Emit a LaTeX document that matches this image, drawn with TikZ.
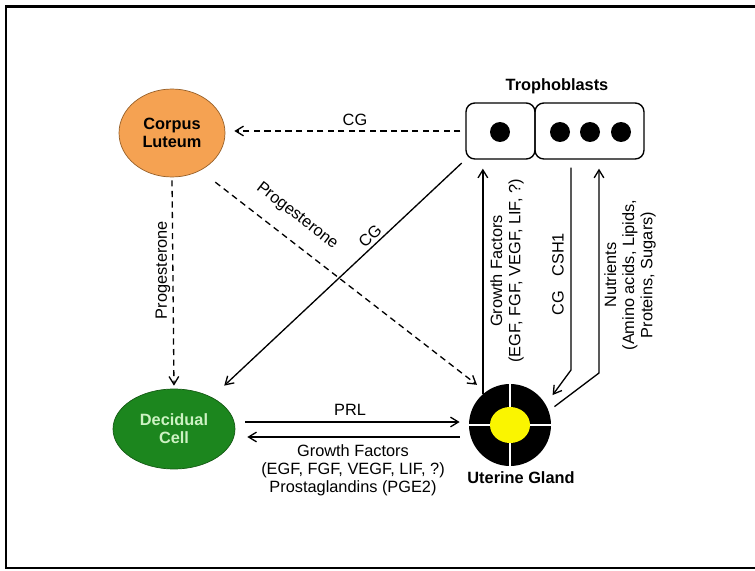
\documentclass[tikz,border=0pt]{standalone}
\usepackage{fontspec}
\setmainfont{Liberation Sans}
\usetikzlibrary{shapes.geometric,arrows.meta}

\definecolor{luteum}{RGB}{245,162,82}
\definecolor{luteumdark}{RGB}{150,95,40}
\definecolor{decidual}{RGB}{28,134,30}
\definecolor{decidualdark}{RGB}{20,90,20}
\definecolor{decidualtext}{RGB}{205,242,195}
\definecolor{glandyellow}{RGB}{250,245,0}

\begin{document}
\begin{tikzpicture}[x=0.02cm,y=-0.02cm]
        \useasboundingbox (0,0) rectangle (755,571);
        % open frame
        \draw[line width=1.6pt] (755,6.5) -- (6,6.5) -- (6,568) -- (755,568);

        \begin{scope}[font=\fontsize{9.3}{10.3}\selectfont, >={Straight Barb[length=4.5pt,width=5.5pt]},
                flow/.style={->, line width=0.75pt},
                hormone/.style={->, line width=0.75pt, dash pattern=on 3.5pt off 2.5pt}]
                % cells
                \node[ellipse, draw=luteumdark, fill=luteum, minimum width=2.12cm, minimum height=1.76cm, align=center, font=\fontsize{9.3}{10.3}\selectfont\bfseries] (CL) at (172,133) {Corpus\\Luteum};
                \node[ellipse, draw=decidualdark, fill=decidual, text=decidualtext, minimum width=2.44cm, minimum height=1.6cm, align=center, font=\fontsize{9.3}{10.3}\selectfont\bfseries] (DC) at (174,429) {Decidual\\Cell};
                \node[circle, fill=black, minimum size=1.64cm, inner sep=0] (UG) at (510,425) {};
                \draw[white, line width=0.6pt] (UG.north) -- (UG.south) (UG.west) -- (UG.east);
                \fill[glandyellow] (UG.center) ellipse [x radius=20, y radius=18];
                \node[font=\fontsize{9.3}{10.3}\selectfont\bfseries] (UGlabel) at (521,478) {Uterine Gland};

                % trophoblasts
                \node[draw, line width=0.8pt, rounded corners=5pt, minimum width=1.38cm, minimum height=1.12cm] (T1) at (500.5,131) {};
                \node[draw, line width=0.8pt, rounded corners=5pt, minimum width=2.18cm, minimum height=1.12cm] (T2) at (589.5,131) {};
                \foreach \x/\n in {500/1, 560/2, 590/3, 621/4}
                        \node[circle, fill=black, minimum size=0.4cm, inner sep=0] (nuc\n) at (\x,132) {};
                \node[font=\fontsize{9.3}{10.3}\selectfont\bfseries] (TBlabel) at (557,86) {Trophoblasts};

                % bend points
                \coordinate (csbend) at (571,370);
                \coordinate (nutbend) at (599,373);
                \coordinate (prlA) at ([yshift=0.14cm]DC.east);
                \coordinate (gfB) at ([yshift=-0.16cm]DC.east);

                % hormones
                \draw[hormone, shorten <=0.1cm, shorten >=0.18cm] (T1.west) -- (T1.west -| CL.east);
                \draw[hormone, shorten <=0.06cm, shorten >=0.06cm] (CL.south) -- (DC.north);
                \draw[hormone, shorten <=0.38cm, shorten >=0.22cm] (CL.-53) -- (UG.126);
                \draw[flow, shorten <=0.1cm, shorten >=0.34cm] (T1.south west) -- (DC.40);

                \node (cgA) at (355,120) {CG};
                \node[rotate=90] (progA) at (163,270) {Progesterone};
                \node[rotate=-37.8] (progB) at (297,216) {Progesterone};
                \node[rotate=43] (cgB) at (370,236) {CG};

                % gland and trophoblasts
                \draw[flow, shorten >=0.18cm] (UG.131) -- (UG.131 |- T1.south);
                \draw[flow, shorten <=0.16cm, shorten >=0.23cm] (T2.south -| csbend) -- (csbend) -- (UG.30);
                \draw[flow, shorten <=0.14cm, shorten >=0.18cm] (UG.20) -- (nutbend) -- (T2.south -| nutbend);

                \node[rotate=90, align=center] (gfA) at (507,271) {Growth Factors\\(EGF, FGF, VEGF, LIF, ?)};
                \node[rotate=90] (cgC) at (558,274) {CG\hspace{8pt}CSH1};
                \node[rotate=90, align=center] (nut) at (630,275) {Nutrients\\(Amino acids, Lipids,\\Proteins, Sugars)};

                % gland and decidua
                \draw[flow, shorten <=0.2cm, shorten >=0.18cm] (prlA) -- (prlA -| UG.west);
                \draw[flow, shorten <=0.18cm, shorten >=0.24cm] (gfB -| UG.west) -- (gfB);

                \node (prl) at (350,410) {PRL};
                \node[align=center] (gfC) at (353,470) {Growth Factors\\(EGF, FGF, VEGF, LIF, ?)\\Prostaglandins (PGE2)};
        \end{scope}
\end{tikzpicture}
\end{document}
